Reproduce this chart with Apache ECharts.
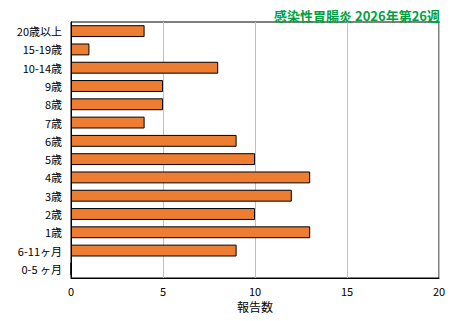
<!DOCTYPE html>
<html>
<head>
<meta charset="utf-8">
<script src="https://cdn.jsdelivr.net/npm/echarts@6/dist/echarts.min.js"></script>
<style>
  html, body { margin: 0; padding: 0; background: #fff; }
  #chart { width: 461px; height: 321px; }
</style>
</head>
<body>
<div id="chart"></div>
<script>
var categories = ['20歳以上', '15-19歳', '10-14歳', '9歳', '8歳', '7歳', '6歳', '5歳', '4歳', '3歳', '2歳', '1歳', '6-11ヶ月', '0-5 ヶ月'];
var counts = [4, 1, 8, 5, 5, 4, 9, 10, 13, 12, 10, 13, 9, 0];
var xTicks = [0, 5, 10, 15, 20];

var font = '"Noto Sans CJK JP", sans-serif';
var chart = echarts.init(document.getElementById('chart'), null, { renderer: 'svg' });
chart.setOption({
  animation: false,
  title: {
    text: '感染性胃腸炎 2026年第26週',
    right: 16,
    top: 4,
    textStyle: { color: '#00a040', fontSize: 13, fontWeight: 'bold', fontFamily: font }
  },
  grid: {
    left: 71, right: 22, top: 22, bottom: 43,
    show: true, borderColor: '#000', borderWidth: 1
  },
  xAxis: {
    type: 'value',
    min: xTicks[0],
    max: xTicks[xTicks.length - 1],
    interval: 5,
    name: '報告数',
    nameLocation: 'middle',
    nameGap: 21,
    nameTextStyle: { color: '#000', fontSize: 12, fontFamily: font },
    axisLine: { show: true, lineStyle: { color: '#000' } },
    axisTick: { show: false },
    axisLabel: { color: '#000', fontSize: 11, fontFamily: font, margin: 7 },
    splitLine: { show: true, lineStyle: { color: '#c0c0c0' } }
  },
  yAxis: {
    type: 'category',
    inverse: true,
    data: categories,
    axisLine: { show: true, lineStyle: { color: '#000' } },
    axisTick: { show: false },
    axisLabel: { color: '#000', fontSize: 11, fontFamily: font, margin: 9 },
    splitLine: { show: false }
  },
  series: [{
    type: 'bar',
    data: counts,
    barWidth: '65%',
    itemStyle: { color: '#ed7d31', borderColor: '#000', borderWidth: 1 }
  }]
});
</script>
</body>
</html>
